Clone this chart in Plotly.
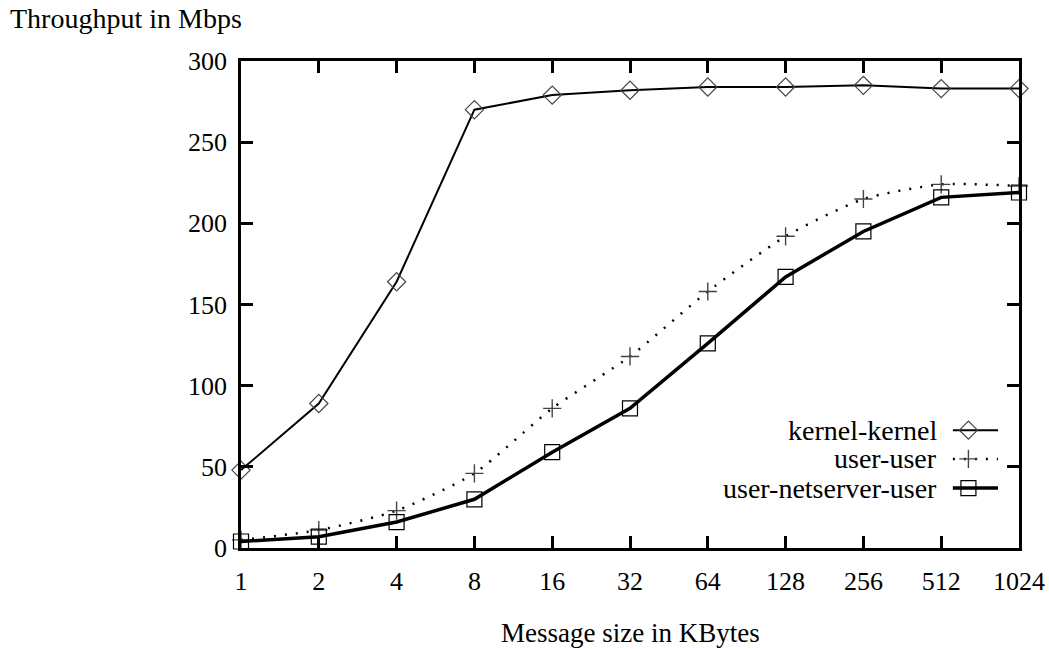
import plotly.graph_objects as go

sizes = [1, 2, 4, 8, 16, 32, 64, 128, 256, 512, 1024]
size_labels = [str(s) for s in sizes]
kernel_kernel = [48, 89, 164, 270, 279, 282, 284, 284, 285, 283, 283]
user_user = [5, 11, 23, 46, 86, 118, 158, 192, 215, 224, 223]
user_netserver_user = [4, 7, 16, 30, 59, 86, 126, 167, 195, 216, 219]
y_ticks = [0, 50, 100, 150, 200, 250, 300]

series_names = ["kernel-kernel", "user-user", "user-netserver-user"]

FONT = "Liberation Serif"
MK = "#444444"

kernel_style = dict(line=dict(color="black", width=2),
                    marker=dict(symbol="diamond-open", size=14, color=MK, line=dict(width=1.2, color=MK)))
user_style = dict(line=dict(color="black", width=2.5, dash="2px,9px", shape="spline", smoothing=0.6),
                  marker=dict(symbol="cross-thin-open", size=13, color=MK, line=dict(width=1.4, color=MK)))
net_style = dict(line=dict(color="black", width=3.5),
                 marker=dict(symbol="square-open", size=15, color="black", line=dict(width=1.2, color="black")))
styles = [kernel_style, user_style, net_style]

fig = go.Figure()
xi = list(range(len(sizes)))
for name, vals, st in zip(series_names, [kernel_kernel, user_user, user_netserver_user], styles):
    fig.add_trace(go.Scatter(x=xi, y=vals, mode="lines", line=st["line"], showlegend=False,
                             cliponaxis=False, name=name))
    fig.add_trace(go.Scatter(x=xi, y=vals, mode="markers", marker=st["marker"], showlegend=False,
                             cliponaxis=False, name=name))

# gnuplot-style key (text left, sample right) on a hidden overlay axis in paper units
key_rows = [0.242, 0.183, 0.123]
for name, yk, st in zip(series_names, key_rows, styles):
    ln = dict(st["line"])
    ln.pop("shape", None); ln.pop("smoothing", None)
    fig.add_trace(go.Scatter(x=[0.915, 0.973], y=[yk, yk], mode="lines", line=ln,
                             xaxis="x2", yaxis="y2", showlegend=False, cliponaxis=False))
    fig.add_trace(go.Scatter(x=[0.935], y=[yk], mode="markers", marker=st["marker"],
                             xaxis="x2", yaxis="y2", showlegend=False, cliponaxis=False))
    fig.add_annotation(x=0.897, y=yk, xref="paper", yref="paper", text=name, showarrow=False,
                       xanchor="right", yanchor="middle", font=dict(family=FONT, size=28, color="black"))

fig.add_annotation(x=-0.300, y=1.0, xref="paper", yref="paper", text="Throughput in Mbps",
                   showarrow=False, xanchor="left", yanchor="bottom", yshift=25,
                   font=dict(family=FONT, size=28, color="black"))
fig.add_annotation(x=0.5, y=0, xref="paper", yref="paper", text="Message size in KBytes",
                   showarrow=False, xanchor="center", yanchor="middle", yshift=-85,
                   font=dict(family=FONT, size=27, color="black"))

axis_common = dict(showgrid=False, zeroline=False, showline=True, linecolor="black", linewidth=2.5,
                   mirror="ticks", ticks="inside", ticklen=12, tickwidth=2.5, tickcolor="black",
                   automargin=False, tickfont=dict(family=FONT, size=26, color="black"))

fig.update_layout(
    width=1049, height=649,
    margin=dict(l=241, r=30, t=61, b=101, autoexpand=False),
    paper_bgcolor="white", plot_bgcolor="white",
    xaxis=dict(range=[0, len(sizes) - 1], tickvals=xi, ticktext=size_labels, ticklabelstandoff=8, **axis_common),
    yaxis=dict(range=[0, 300], tickvals=y_ticks, ticklabelstandoff=6, **axis_common),
    xaxis2=dict(overlaying="x", range=[0, 1], visible=False),
    yaxis2=dict(overlaying="y", range=[0, 1], visible=False),
)

fig.write_html("out.html", config={"displayModeBar": False},
               post_script="document.body.style.margin='0';document.body.style.overflow='hidden';")
